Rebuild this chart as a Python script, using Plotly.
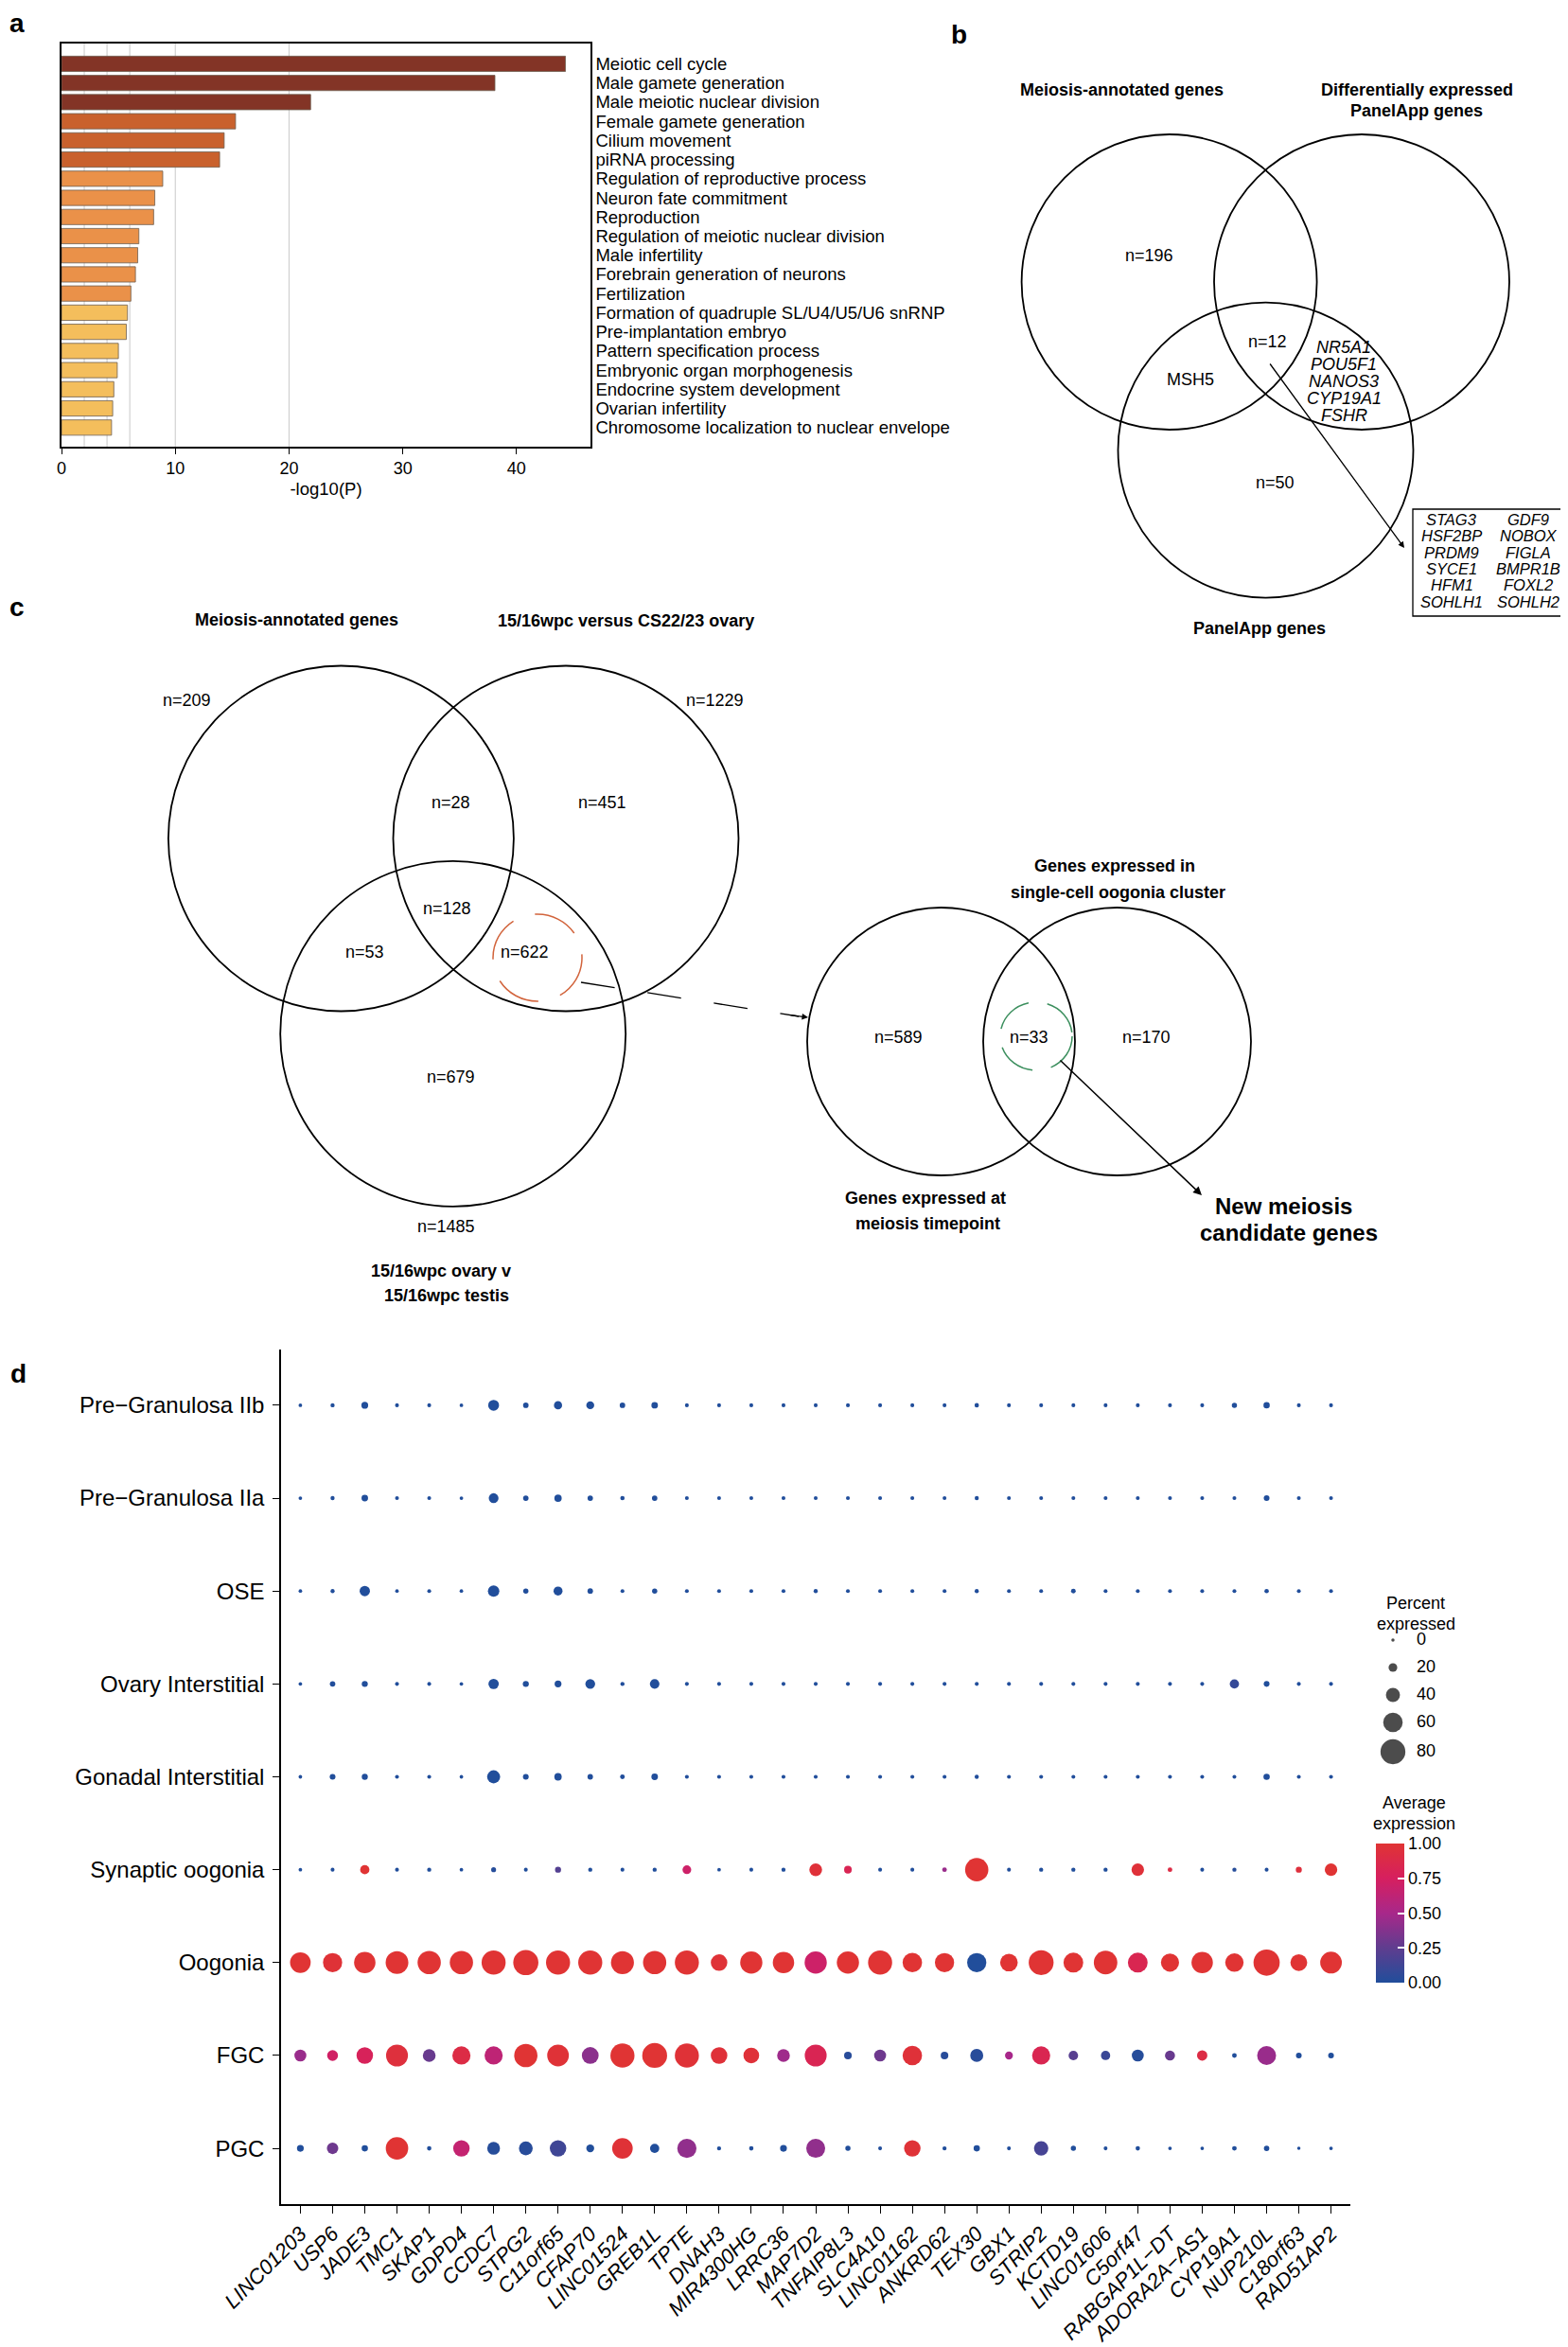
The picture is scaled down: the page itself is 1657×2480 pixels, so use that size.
import plotly.graph_objects as go

W, H = 1657, 2480
FONT = "Liberation Sans, Arial, Helvetica, sans-serif"

# ---------------- Panel a: GO enrichment ----------------
go_terms = ["Meiotic cell cycle", "Male gamete generation", "Male meiotic nuclear division",
            "Female gamete generation", "Cilium movement", "piRNA processing",
            "Regulation of reproductive process", "Neuron fate commitment", "Reproduction",
            "Regulation of meiotic nuclear division", "Male infertility",
            "Forebrain generation of neurons", "Fertilization",
            "Formation of quadruple SL/U4/U5/U6 snRNP", "Pre-implantation embryo",
            "Pattern specification process", "Embryonic organ morphogenesis",
            "Endocrine system development", "Ovarian infertility",
            "Chromosome localization to nuclear envelope"]
go_neglog10p = [44.3, 38.1, 21.9, 15.3, 14.3, 13.9, 8.9, 8.2, 8.1, 6.8, 6.7, 6.5, 6.1,
                5.8, 5.7, 5.0, 4.9, 4.6, 4.5, 4.4]
go_band = [0, 0, 0, 1, 1, 1, 2, 2, 2, 2, 2, 2, 2, 3, 3, 3, 3, 3, 3, 3]
go_x_ticks = [0, 10, 20, 30, 40]
go_gridlines = [2, 4, 6, 10, 20]

# ---------------- Panel b: Venn ----------------
venn_b_titles = ["Meiosis-annotated genes", "Differentially expressed", "PanelApp genes", "PanelApp genes"]
venn_b_counts = [196, 12, 50]
venn_b_meiosis_panel = ["MSH5"]
venn_b_de_panel = ["NR5A1", "POU5F1", "NANOS3", "CYP19A1", "FSHR"]
venn_b_core_left = ["STAG3", "HSF2BP", "PRDM9", "SYCE1", "HFM1", "SOHLH1"]
venn_b_core_right = ["GDF9", "NOBOX", "FIGLA", "BMPR1B", "FOXL2", "SOHLH2"]

# ---------------- Panel c: Venn ----------------
venn_c_titles = ["Meiosis-annotated genes", "15/16wpc versus CS22/23 ovary",
                 "15/16wpc ovary v", "15/16wpc testis"]
venn_c_counts = [209, 1229, 28, 451, 128, 53, 622, 679, 1485]
venn_c2_titles = ["Genes expressed in", "single-cell oogonia cluster",
                  "Genes expressed at", "meiosis timepoint"]
venn_c2_counts = [589, 33, 170]
venn_c2_result = ["New meiosis", "candidate genes"]

# ---------------- Panel d: dot plot ----------------
genes = ["LINC01203", "USP6", "JADE3", "TMC1", "SKAP1", "GDPD4", "CCDC7", "STPG2", "C11orf65",
         "CFAP70", "LINC01524", "GREB1L", "TPTE", "DNAH3", "MIR4300HG", "LRRC36", "MAP7D2",
         "TNFAIP8L3", "SLC4A10", "LINC01162", "ANKRD62", "TEX30", "GBX1", "STRIP2", "KCTD19",
         "LINC01606", "C5orf47", "RABGAP1L\u2212DT", "ADORA2A\u2212AS1", "CYP19A1", "NUP210L",
         "C18orf63", "RAD51AP2"]
cell_types = ["Pre\u2212Granulosa IIb", "Pre\u2212Granulosa IIa", "OSE", "Ovary Interstitial",
              "Gonadal Interstitial", "Synaptic oogonia", "Oogonia", "FGC", "PGC"]

pct_pre_gran_IIb = [1, 3, 13, 2, 2, 1, 28, 8, 18, 17, 8, 12, 2, 2, 2, 2, 2, 2, 2, 2, 2, 4, 2, 2, 2, 2, 2, 2, 2, 7, 11, 2, 2]
pct_pre_gran_IIa = [1, 3, 12, 2, 2, 1, 24, 8, 15, 8, 4, 8, 2, 2, 2, 2, 2, 2, 2, 2, 2, 3, 2, 2, 2, 2, 2, 2, 2, 2, 9, 2, 2]
pct_ose = [1, 3, 26, 1, 2, 1, 30, 7, 21, 8, 2, 7, 2, 2, 2, 2, 3, 2, 2, 2, 2, 3, 2, 2, 5, 2, 2, 2, 2, 2, 4, 2, 2]
pct_ovary_int = [1, 8, 10, 2, 2, 1, 26, 10, 13, 24, 3, 23, 2, 2, 2, 2, 2, 2, 2, 2, 2, 2, 2, 2, 2, 2, 2, 2, 2, 22, 9, 2, 2]
pct_gonadal_int = [1, 9, 10, 2, 2, 1, 36, 9, 15, 8, 5, 12, 2, 2, 2, 2, 2, 2, 2, 2, 2, 3, 2, 2, 2, 2, 2, 2, 2, 2, 11, 2, 2]
pct_synaptic = [1, 2, 22, 2, 3, 1, 6, 2, 10, 3, 2, 3, 20, 1, 2, 3, 35, 16, 2, 2, 5, 74, 2, 3, 3, 3, 34, 5, 2, 3, 2, 10, 34]
pct_oogonia = [64, 59, 67, 72, 74, 74, 77, 81, 77, 77, 73, 74, 77, 49, 70, 67, 70, 70, 77, 60, 59, 59, 53, 80, 61, 75, 61, 55, 67, 56, 85, 50, 68]
pct_fgc = [32, 28, 49, 69, 35, 55, 55, 74, 68, 50, 77, 80, 77, 49, 46, 35, 69, 16, 32, 60, 16, 36, 17, 55, 23, 22, 32, 25, 26, 5, 58, 9, 9]
pct_pgc = [13, 30, 11, 71, 4, 49, 35, 39, 49, 17, 64, 22, 59, 3, 4, 13, 58, 7, 2, 49, 3, 11, 2, 41, 7, 2, 4, 1, 1, 5, 8, 0, 1]

avg_pre_gran_IIb = [0, 0, 0, 0, 0, 0, 0, 0, 0, 0, 0, 0, 0, 0, 0, 0, 0, 0, 0, 0, 0, 0, 0, 0, 0, 0, 0, 0, 0, 0, 0, 0, 0]
avg_pre_gran_IIa = [0, 0, 0, 0, 0, 0, 0, 0, 0, 0, 0, 0, 0, 0, 0, 0, 0, 0, 0, 0, 0, 0, 0, 0, 0, 0, 0, 0, 0, 0, 0, 0, 0]
avg_ose = [0, 0, 0, 0, 0, 0, 0, 0, 0, 0, 0, 0, 0, 0, 0, 0, 0, 0, 0, 0, 0, 0, 0, 0, 0, 0, 0, 0, 0, 0, 0, 0, 0]
avg_ovary_int = [0, 0, 0, 0, 0, 0, 0, 0, 0, 0, 0, 0, 0, 0, 0, 0, 0, 0, 0, 0, 0, 0, 0, 0, 0, 0, 0, 0, 0, 0.08, 0, 0, 0]
avg_gonadal_int = [0, 0, 0, 0, 0, 0, 0, 0, 0, 0, 0, 0, 0, 0, 0, 0, 0, 0, 0, 0, 0, 0, 0, 0, 0, 0, 0, 0, 0, 0, 0, 0, 0]
avg_synaptic = [0, 0, 1.0, 0, 0, 0, 0.02, 0, 0.2, 0, 0, 0, 0.7, 0, 0, 0, 0.97, 0.82, 0, 0, 0.45, 1.0, 0, 0, 0, 0, 0.97, 0.9, 0, 0.02, 0, 0.95, 1.0]
avg_oogonia = [1, 0.98, 1, 1, 1, 1, 1, 1, 1, 1, 1, 1, 1, 0.98, 1, 1, 0.7, 1, 1, 1, 1, 0, 1, 1, 1, 1, 0.83, 1, 1, 1, 1, 1, 1]
avg_fgc = [0.45, 0.72, 0.78, 0.95, 0.28, 0.9, 0.62, 1.0, 0.98, 0.4, 1.0, 1.0, 0.98, 0.97, 0.97, 0.47, 0.82, 0.03, 0.3, 0.97, 0.03, 0.03, 0.5, 0.83, 0.22, 0.1, 0.02, 0.28, 0.9, 0.0, 0.45, 0.0, 0.0]
avg_pgc = [0, 0.3, 0, 1, 0, 0.65, 0.02, 0.03, 0.12, 0, 0.98, 0, 0.42, 0, 0, 0, 0.42, 0, 0, 0.98, 0, 0, 0, 0.15, 0, 0, 0, 0, 0, 0, 0, 0, 0]

legend_pct = [0, 20, 40, 60, 80]
colorbar_ticks = [0, 0.25, 0.5, 0.75, 1.0]

# ---------------- styling ----------------
band_colours = ["#833426", "#c9612d", "#ea9149", "#f4be5c"]
expr_colorscale = [[0.0, "#214e9b"], [0.25, "#5f3d8f"], [0.5, "#a8288a"],
                   [0.75, "#d61f5f"], [1.0, "#e03434"]]
SIZE_MIN, SIZE_K = 3.5, 0.285


def dot_size(p):
    return SIZE_MIN + SIZE_K * p


def fx(x):
    return x / W


def fy(y):
    return 1 - y / H


pct_rows = [pct_pre_gran_IIb, pct_pre_gran_IIa, pct_ose, pct_ovary_int, pct_gonadal_int,
            pct_synaptic, pct_oogonia, pct_fgc, pct_pgc]
avg_rows = [avg_pre_gran_IIb, avg_pre_gran_IIa, avg_ose, avg_ovary_int, avg_gonadal_int,
            avg_synaptic, avg_oogonia, avg_fgc, avg_pgc]

fig = go.Figure()

# Panel a bars
fig.add_trace(go.Bar(
    x=go_neglog10p, y=go_terms, orientation="h", width=0.8,
    marker=dict(color=[band_colours[b] for b in go_band],
                line=dict(color="rgba(110,95,80,0.8)", width=1)),
    xaxis="x", yaxis="y", showlegend=False, hoverinfo="skip"))

# Panel d dots
dx, dy, ds, dc = [], [], [], []
for ct, prow, arow in zip(cell_types, pct_rows, avg_rows):
    for g, p, a in zip(genes, prow, arow):
        dx.append(g)
        dy.append(ct)
        ds.append(dot_size(p))
        dc.append(a)
fig.add_trace(go.Scatter(
    x=dx, y=dy, mode="markers", xaxis="x2", yaxis="y2", showlegend=False,
    marker=dict(size=ds, color=dc, colorscale=expr_colorscale, cmin=0, cmax=1,
                line=dict(width=0), opacity=1,
                colorbar=dict(x=fx(1446), xanchor="left", y=fy(2013.5), yanchor="middle",
                              len=147, lenmode="pixels", thickness=30, thicknessmode="pixels",
                              xpad=0, ypad=0, outlinewidth=0,
                              tickvals=colorbar_ticks, ticktext=["%.2f" % t for t in colorbar_ticks],
                              ticks="inside", ticklen=7, tickcolor="white", tickwidth=1.5,
                              tickfont=dict(size=18, color="black", family=FONT)))))

# Size legend (pixel canvas axes x3/y3)
leg_y = [1725, 1754, 1783, 1812, 1843]
fig.add_trace(go.Scatter(
    x=[1464] * len(legend_pct), y=leg_y, mode="markers", xaxis="x3", yaxis="y3",
    marker=dict(size=[dot_size(p) for p in legend_pct], color="black", line=dict(width=0)),
    showlegend=False, hoverinfo="skip"))
fig.add_trace(go.Scatter(
    x=[1489] * len(legend_pct), y=leg_y, mode="text", text=[str(p) for p in legend_pct],
    textposition="middle right", textfont=dict(size=18, color="black", family=FONT),
    xaxis="x3", yaxis="y3", showlegend=False, hoverinfo="skip"))

shapes = []
annotations = []


def txt(x, y, s, size=18, bold=False, italic=False, xanchor="center"):
    if bold:
        s = "<b>%s</b>" % s
    if italic:
        s = "<i>%s</i>" % s
    annotations.append(dict(x=x, y=y, xref="x3", yref="y3", text=s, showarrow=False,
                            xanchor=xanchor, yanchor="middle",
                            font=dict(size=size, color="black", family=FONT)))


def circle(cx, cy, rx, ry=None, color="black", width=1.8, dash="solid"):
    ry = rx if ry is None else ry
    shapes.append(dict(type="circle", xref="x3", yref="y3", x0=cx - rx, x1=cx + rx,
                       y0=cy - ry, y1=cy + ry, line=dict(color=color, width=width, dash=dash)))


def arrow(x0, y0, x1, y1, width=1.3, size=1.0, head=2):
    annotations.append(dict(x=x1, y=y1, ax=x0, ay=y0, xref="x3", yref="y3", axref="x3", ayref="y3",
                            showarrow=True, arrowhead=head, arrowsize=size, arrowwidth=width,
                            arrowcolor="black", text=""))


# gridlines for panel a
for g in go_gridlines:
    shapes.append(dict(type="line", xref="x", yref="y domain", x0=g, x1=g, y0=0, y1=1,
                       line=dict(color="#c9c9c9", width=1), layer="below"))

# panel labels
for lab, x, y in [("a", 10, 16), ("b", 1005, 28), ("c", 10, 633), ("d", 11, 1443)]:
    txt(x, y, lab, size=28, bold=True)

# ----- Panel b -----
for cx, cy in [(1227.6, 290), (1431, 290), (1329.5, 467.6)]:
    circle(cx, cy, 156)
txt(1177, 87, venn_b_titles[0], bold=True)
txt(1489, 87, venn_b_titles[1], bold=True)
txt(1489, 109, venn_b_titles[2], bold=True)
txt(1323, 656, venn_b_titles[3], bold=True)
txt(1206, 262, "n=%d" % venn_b_counts[0])
txt(1331, 353, "n=%d" % venn_b_counts[1])
txt(1339, 502, "n=%d" % venn_b_counts[2])
txt(1250, 393, venn_b_meiosis_panel[0])
for i, g in enumerate(venn_b_de_panel):
    txt(1412, 359 + 18 * i, g, italic=True)
shapes.append(dict(type="rect", xref="x3", yref="y3", x0=1485, x1=1650, y0=530, y1=643,
                   line=dict(color="black", width=1.3)))
for i, (gl, gr) in enumerate(zip(venn_b_core_left, venn_b_core_right)):
    txt(1526, 541 + 17.3 * i, gl, size=16.5, italic=True)
    txt(1607, 541 + 17.3 * i, gr, size=16.5, italic=True)
arrow(1333, 375, 1476, 571)

# ----- Panel c (left Venn) -----
for cx, cy in [(352.4, 878), (590, 878), (470.7, 1084.4)]:
    circle(cx, cy, 182.5)
txt(305, 647, venn_c_titles[0], bold=True)
txt(653, 648, venn_c_titles[1], bold=True)
txt(458, 1335, venn_c_titles[2], bold=True)
txt(464, 1361, venn_c_titles[3], bold=True)
c_pos = [(189, 732), (747, 732), (468, 840), (628, 840), (464, 952), (377, 998),
         (546, 998), (468, 1130), (463, 1288)]
for (x, y), n in zip(c_pos, venn_c_counts):
    txt(x, y, "n=%d" % n)
circle(560, 1004, 47, 46, color="#d2643c", width=1.5, dash="48px,24px")
shapes.append(dict(type="line", xref="x3", yref="y3", x0=606, y0=1030, x1=836, y1=1066,
                   line=dict(color="black", width=1.3, dash="36px,35px")))
arrow(826, 1064.5, 846, 1067, width=1.3, size=1.0)

# ----- Panel c (right Venn) -----
for cx in [986.5, 1172.5]:
    circle(cx, 1092.5, 141.5)
txt(1170, 907, venn_c2_titles[0], bold=True)
txt(1173, 935, venn_c2_titles[1], bold=True)
txt(970, 1258, venn_c2_titles[2], bold=True)
txt(972, 1285, venn_c2_titles[3], bold=True)
for x, n in zip([941, 1079, 1203], venn_c2_counts):
    txt(x, 1088, "n=%d" % n)
circle(1087, 1087, 38, 36, color="#3c8f5e", width=1.5, dash="42px,20px")
arrow(1111, 1111, 1262, 1255, width=1.5, size=1.2)
txt(1348, 1266, venn_c2_result[0], size=24, bold=True)
txt(1354, 1294, venn_c2_result[1], size=24, bold=True)

# ----- Panel d legend titles -----
txt(1488, 1686, "Percent", size=18)
txt(1488, 1708, "expressed", size=18)
txt(1486, 1897, "Average", size=18)
txt(1486, 1919, "expression", size=18)

axis_common = dict(showgrid=False, zeroline=False, linecolor="black", linewidth=1.5,
                   tickcolor="black", tickwidth=1.3, automargin=False)

fig.update_layout(
    width=W, height=H, margin=dict(l=0, r=0, t=0, b=0, pad=0, autoexpand=False),
    paper_bgcolor="white", plot_bgcolor="rgba(0,0,0,0)", showlegend=False,
    font=dict(family=FONT, color="black"),
    xaxis=dict(domain=[fx(57), fx(616)], anchor="y", range=[0, 46.5], showline=True, mirror=True,
               ticks="outside", ticklen=6, tickvals=go_x_ticks,
               tickfont=dict(size=18, family=FONT),
               title=dict(text="-log10(P)", font=dict(size=18.5, family=FONT), standoff=6),
               **axis_common),
    yaxis=dict(domain=[fy(464), fy(38)], anchor="x", side="right", type="category",
               categoryarray=go_terms, tickmode="array", tickvals=go_terms,
               range=[len(go_terms) - 1 + 1.0, -1.06],
               showline=True, mirror=True, ticks="", tickfont=dict(size=18.5, family=FONT),
               **axis_common),
    xaxis2=dict(domain=[fx(289), fx(1419)], anchor="y2", type="category", categoryarray=genes,
                tickmode="array", tickvals=genes,
                range=[-0.6, len(genes) - 1 + 0.6], showline=True, ticks="outside", ticklen=8,
                tickangle=-45, tickfont=dict(size=22, family=FONT, style="italic"),
                **axis_common),
    yaxis2=dict(domain=[fy(2321), fy(1418)], anchor="x2", type="category",
                categoryarray=cell_types[::-1], tickmode="array", tickvals=cell_types,
                range=[-0.6, len(cell_types) - 1 + 0.6],
                showline=True, ticks="outside", ticklen=7, ticklabelstandoff=4,
                tickfont=dict(size=24, family=FONT), **axis_common),
    xaxis3=dict(domain=[0, 1], anchor="y3", range=[0, W], visible=False, fixedrange=True),
    yaxis3=dict(domain=[0, 1], anchor="x3", range=[H, 0], visible=False, fixedrange=True),
    shapes=shapes, annotations=annotations,
)

fig.write_html("out.html")
